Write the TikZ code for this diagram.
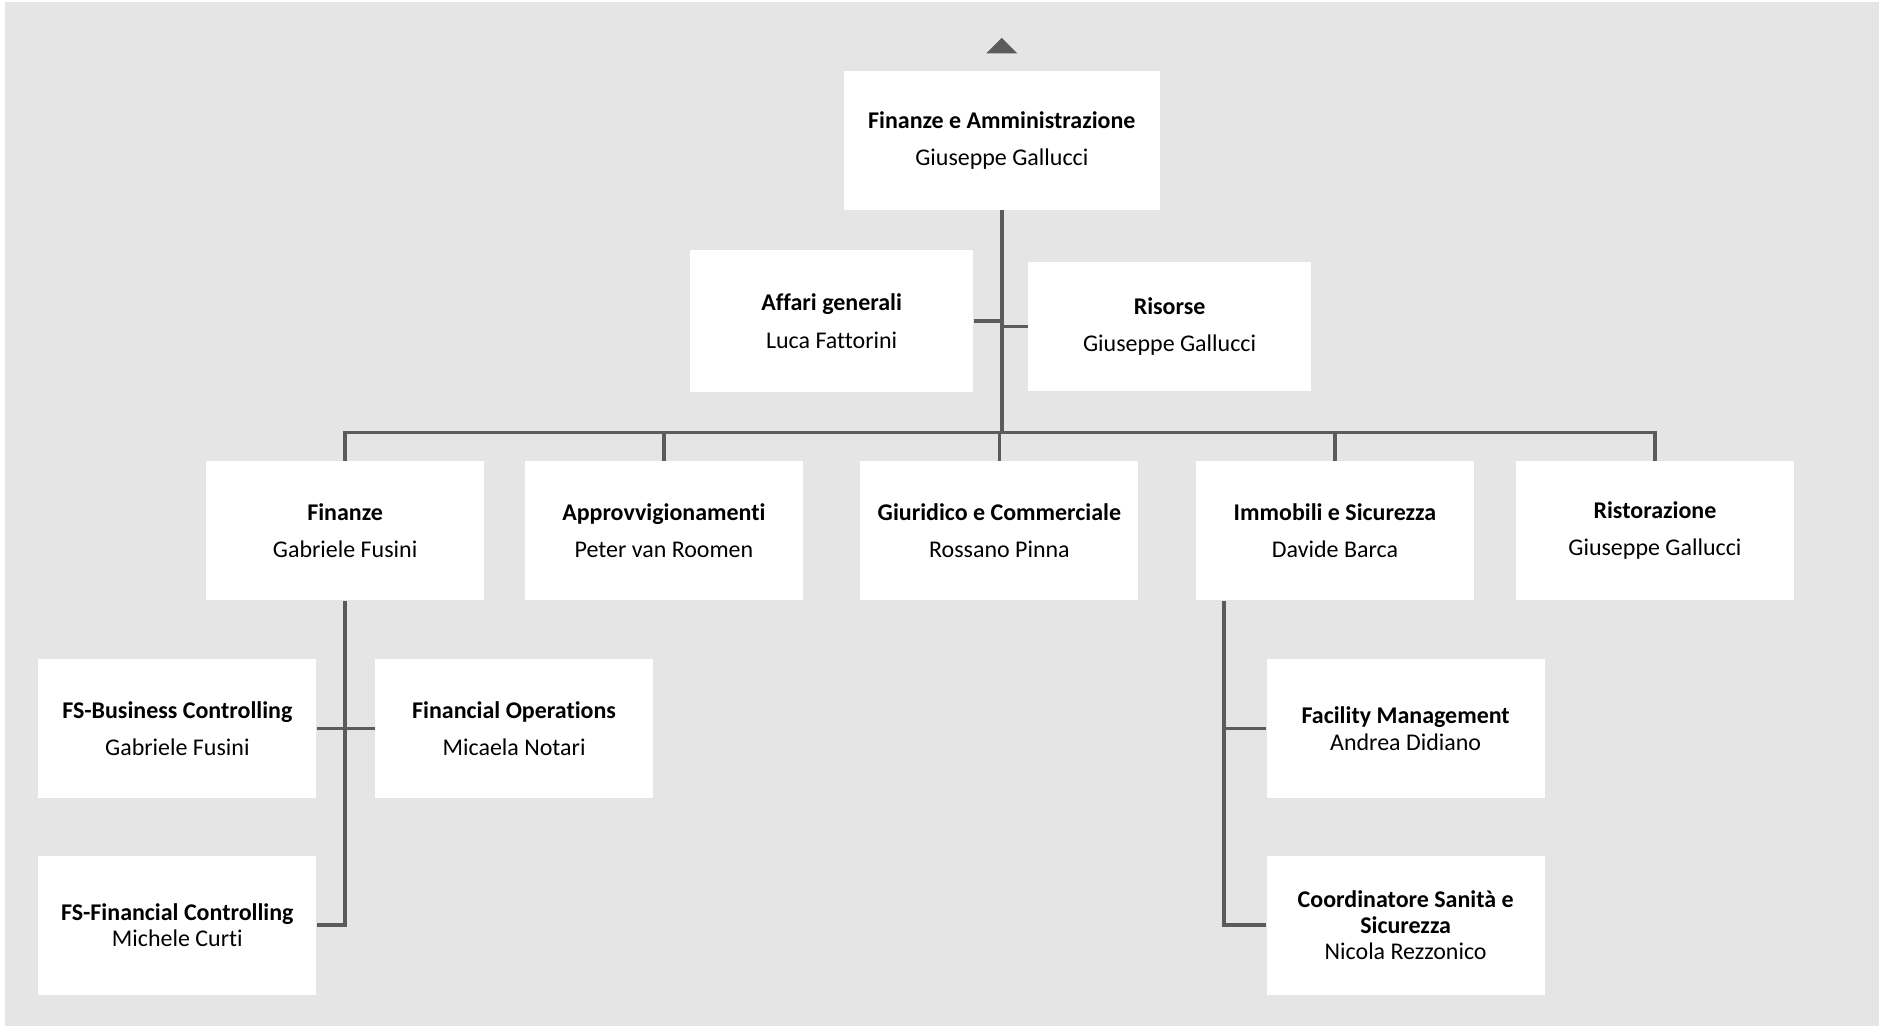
\documentclass[tikz,border=0pt]{standalone}
\usepackage{fontspec}
\setmainfont[Ligatures=NoCommon]{Carlito}
\usetikzlibrary{positioning}
\definecolor{bggray}{HTML}{E5E5E5}
\definecolor{linegray}{HTML}{5B5B5B}
\tikzstyle{unit} = [rectangle, fill=white, minimum width=116pt, minimum height=58pt, inner sep=0pt, align=center, text=black, font=\fontsize{10}{11}\selectfont]
\tikzstyle{topunit} = [unit, minimum width=132pt]
\tikzstyle{staff} = [unit, minimum width=118pt]
\tikzstyle{link} = [draw=linegray, line width=1.5pt]

\begin{document}
\begin{tikzpicture}[x=0.5pt, y=0.5pt]

\useasboundingbox (0,0) rectangle (1568,-856);
\fill[bggray] (4,-2) rectangle (1568,-856);

\node (fa) [topunit, minimum height=58pt] at (836,-117) {\textbf{Finanze e Amministrazione}\\[4.5pt] Giuseppe Gallucci};
\node (affari) [staff, minimum height=59pt] at (694,-268) {\textbf{Affari generali}\\[4.5pt] Luca Fattorini};
\node (risorse) [staff, minimum height=53.5pt] at (976,-272.5) {\textbf{Risorse}\\[4.5pt] Giuseppe Gallucci};

\node (fin) [unit] at (288,-443) {\textbf{Finanze}\\[4.5pt] Gabriele Fusini};
\node (appr) [unit] at (554,-443) {\textbf{Approvvigionamenti}\\[4.5pt] Peter van Roomen};
\node (giur) [unit] at (834,-443) {\textbf{Giuridico e Commerciale}\\[4.5pt] Rossano Pinna};
\node (immo) [unit] at (1114,-443) {\textbf{Immobili e Sicurezza}\\[4.5pt] Davide Barca};
\node (rist) [unit] at (1381,-443) {\textbf{Ristorazione}\\[4.5pt] Giuseppe Gallucci};

\node (fsbc) [unit] at (148,-608) {\textbf{FS-Business Controlling}\\[4.5pt] Gabriele Fusini};
\node (finop) [unit, right of=fsbc, node distance=140.5pt] {\textbf{Financial Operations}\\[4.5pt] Micaela Notari};
\node (fsfc) [unit, below of=fsbc, node distance=82pt] {\textbf{FS-Financial Controlling}\\ Michele Curti};

\node (facil) [unit] at (1173,-608) {\textbf{Facility Management}\\ Andrea Didiano};
\node (coord) [unit, below of=facil, node distance=82pt] {\textbf{Coordinatore Sanità e}\\ \textbf{Sicurezza}\\ Nicola Rezzonico};

\coordinate (bus) at (836,-361);
\coordinate (imtop) at ([xshift=12pt]immo.south west);

% Lines
\fill[linegray] ([xshift=-6.5pt, yshift=7pt]fa.north) -- ([yshift=13.5pt]fa.north) -- ([xshift=6.5pt, yshift=7pt]fa.north) -- cycle;
\draw [link] (fa.south) -- (bus);
\draw [link] (affari.east) -- (affari.east -| fa.south);
\draw [link] (risorse.west) -- (risorse.west -| fa.south);
\draw [link] (fin.north) |- (bus) -| (rist.north);
\draw [link] (appr.north) -- (appr.north |- bus);
\draw [link] (giur.north) -- (giur.north |- bus);
\draw [link] (immo.north) -- (immo.north |- bus);

\draw [link] (fin.south) |- (fsfc.east);
\draw [link] (fsbc.east) -- (finop.west);
\draw [link] (imtop) |- (coord.west);
\draw [link] (imtop |- facil.west) -- (facil.west);

\end{tikzpicture}
\end{document}
